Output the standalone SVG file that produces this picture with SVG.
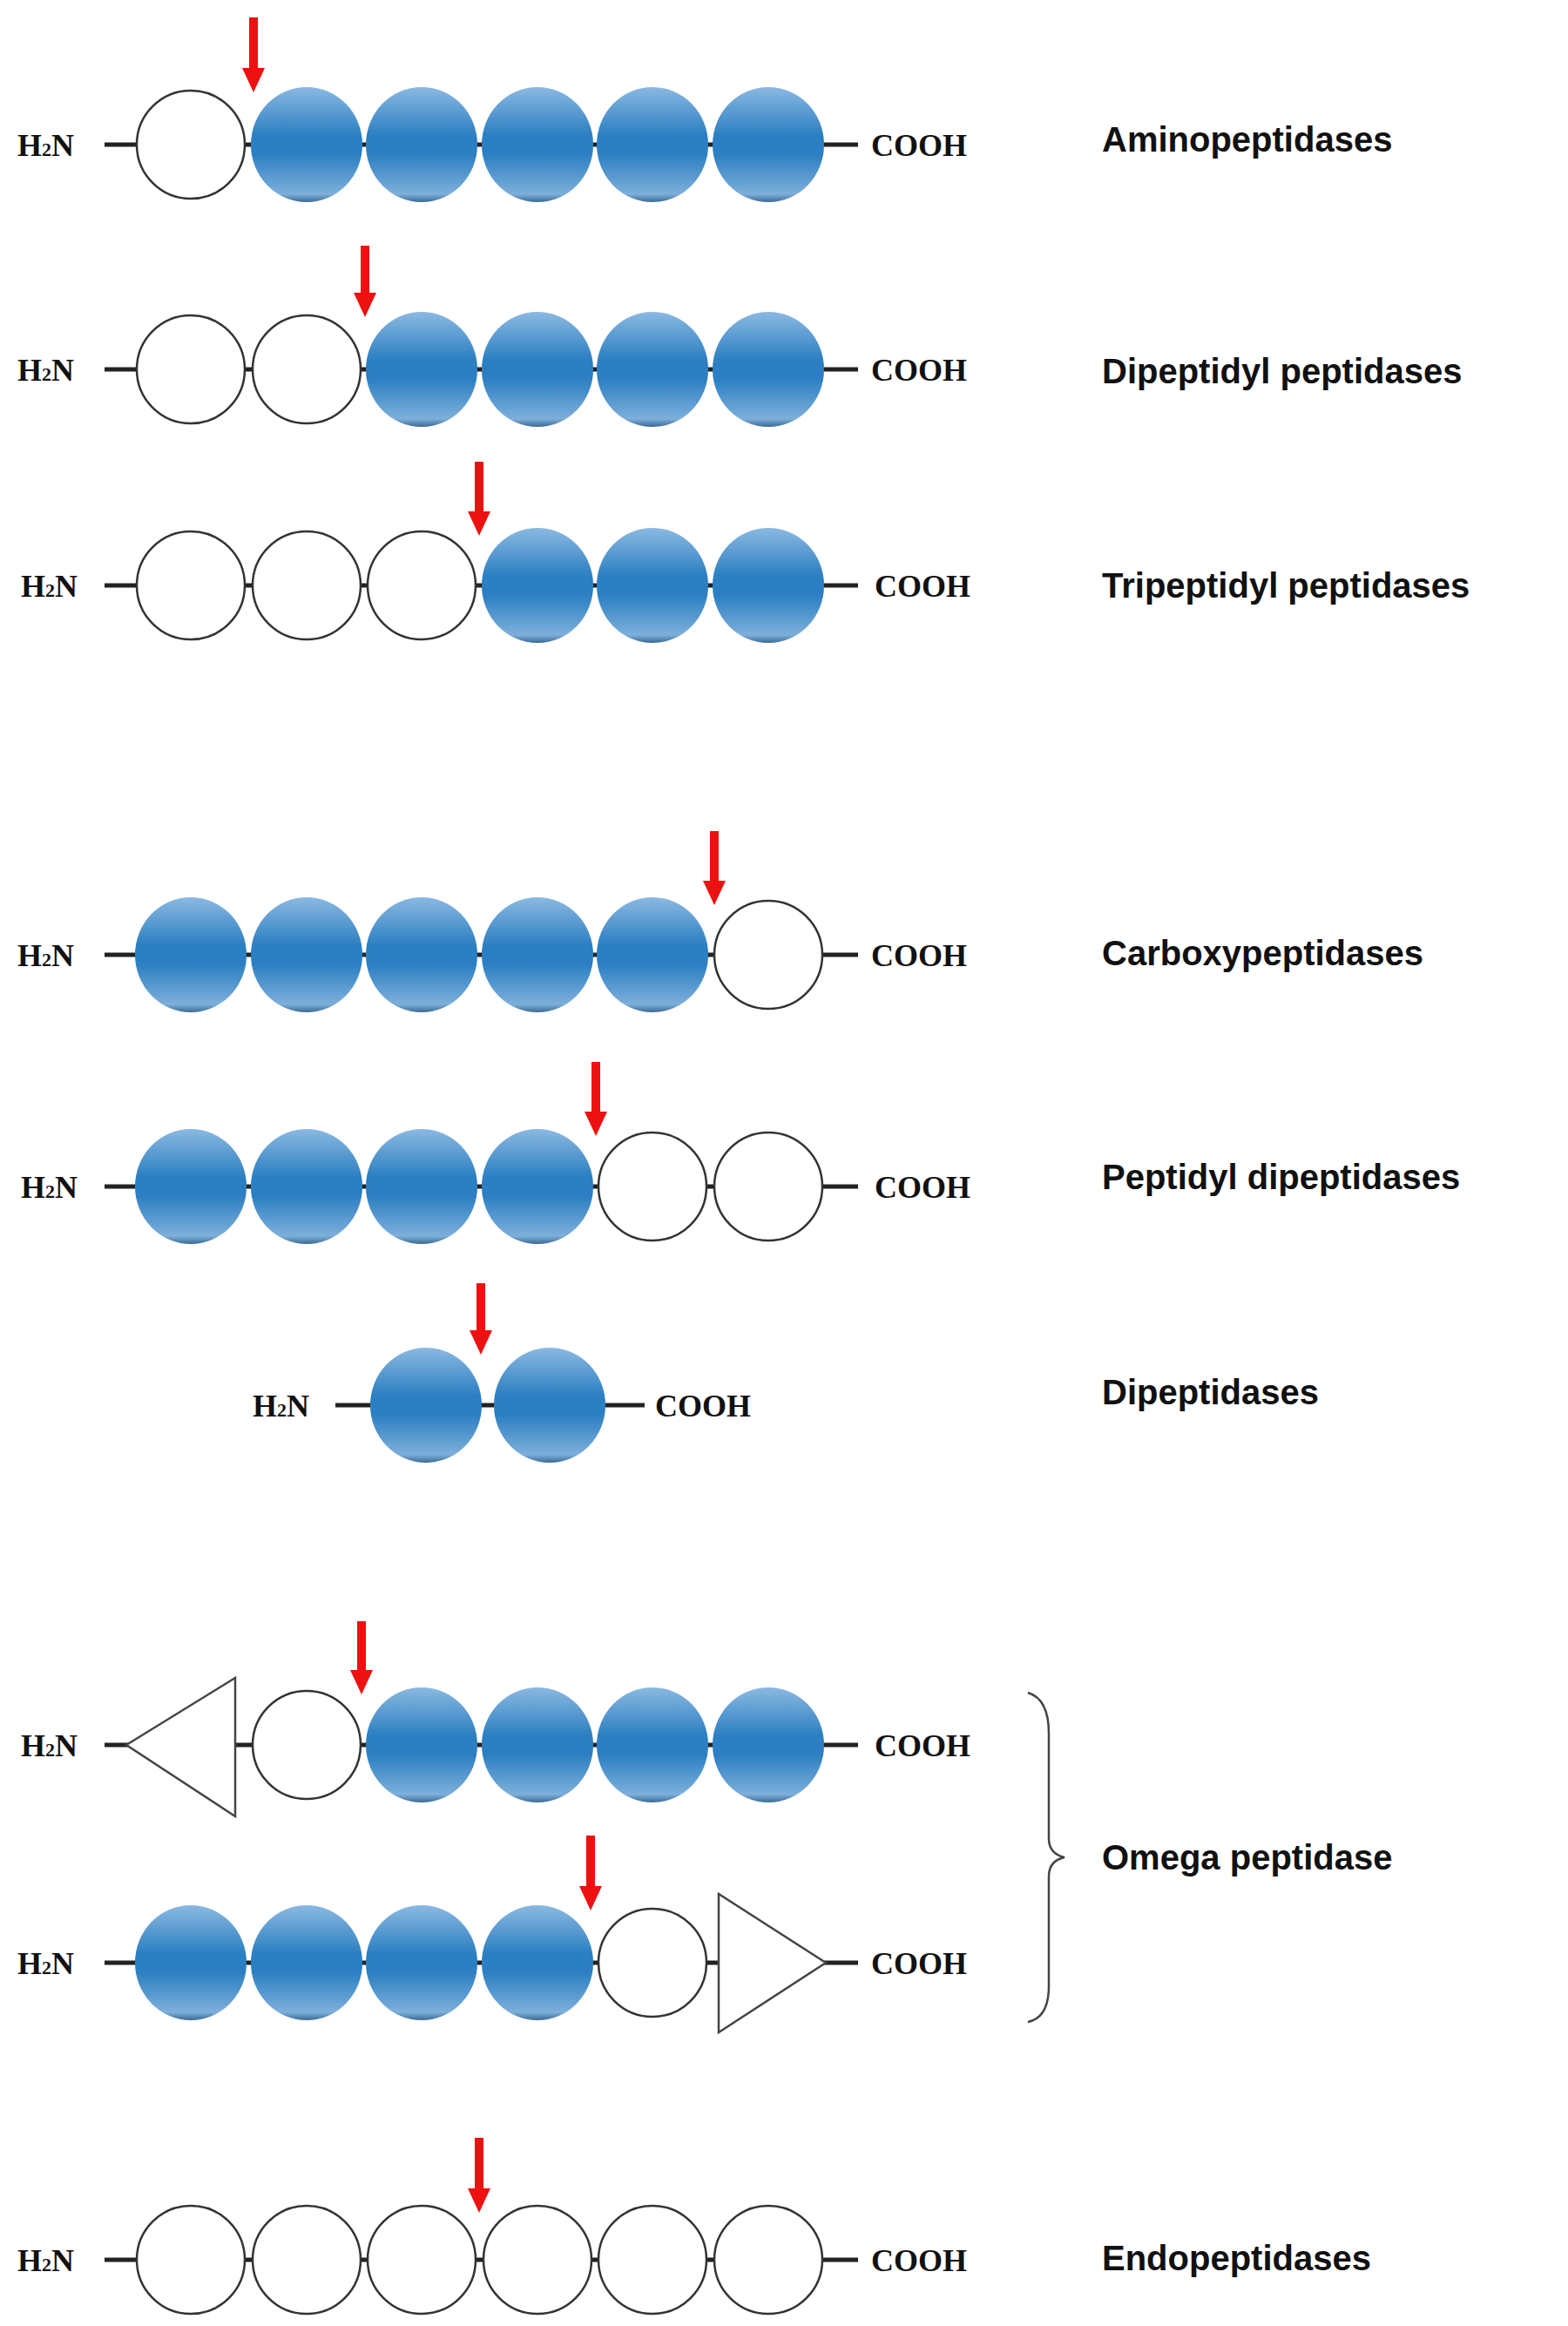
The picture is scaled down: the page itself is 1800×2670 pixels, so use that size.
<svg xmlns="http://www.w3.org/2000/svg" width="1800" height="2670" viewBox="0 0 1800 2670">
<defs>
<linearGradient id="bg" x1="0" y1="0" x2="0" y2="1">
<stop offset="0" stop-color="#8bb9e1"/><stop offset="0.42" stop-color="#2b7fc2"/><stop offset="0.58" stop-color="#2b7fc2"/><stop offset="0.93" stop-color="#7dafdb"/><stop offset="1" stop-color="#3a6b96"/>
</linearGradient>
<symbol id="arr" viewBox="-14 0 28 86" width="28" height="86" overflow="visible"><path d="M-5,0 H5 V58 H13 L0,86 L-13,58 H-5 Z" fill="#ee1111"/></symbol>
</defs>
<style>
.b{fill:url(#bg)}
.w{fill:#fff;stroke:#333;stroke-width:2.5}
.t{fill:#fff;stroke:#444;stroke-width:2.5}
.ln{stroke:#222;stroke-width:5}
.ch{font-family:"Liberation Serif",serif;font-weight:bold;font-size:36px;fill:#111}
.lb{font-family:"Liberation Sans",sans-serif;font-weight:bold;font-size:40px;fill:#111}
.ar{fill:#ee1111}
</style>
<g id="connectors">
<line class="ln" x1="120" y1="166" x2="985" y2="166"/>
<line class="ln" x1="120" y1="424" x2="985" y2="424"/>
<line class="ln" x1="120" y1="672" x2="985" y2="672"/>
<line class="ln" x1="120" y1="1096" x2="985" y2="1096"/>
<line class="ln" x1="120" y1="1362" x2="985" y2="1362"/>
<line class="ln" x1="385" y1="1613" x2="740" y2="1613"/>
<line class="ln" x1="120" y1="2003" x2="985" y2="2003"/>
<line class="ln" x1="120" y1="2253" x2="985" y2="2253"/>
<line class="ln" x1="120" y1="2594" x2="985" y2="2594"/>
</g>
<g id="row1">
<text class="ch" x="20" y="179">H<tspan font-size="22">2</tspan>N</text>
<circle class="w" cx="219" cy="166" r="62"/>
<ellipse class="b" cx="352" cy="166" rx="64" ry="66"/><ellipse class="b" cx="484" cy="166" rx="64" ry="66"/><ellipse class="b" cx="617" cy="166" rx="64" ry="66"/><ellipse class="b" cx="749" cy="166" rx="64" ry="66"/><ellipse class="b" cx="882" cy="166" rx="64" ry="66"/>
<text class="ch" x="1000" y="179">COOH</text>
<path class="ar" d="M286,20 H296 V78 H304 L291,106 L278,78 H286 Z"/>
<text class="lb" x="1265" y="174">Aminopeptidases</text>
</g>
<g id="row2">
<text class="ch" x="20" y="437">H<tspan font-size="22">2</tspan>N</text>
<circle class="w" cx="219" cy="424" r="62"/><circle class="w" cx="352" cy="424" r="62"/>
<ellipse class="b" cx="484" cy="424" rx="64" ry="66"/><ellipse class="b" cx="617" cy="424" rx="64" ry="66"/><ellipse class="b" cx="749" cy="424" rx="64" ry="66"/><ellipse class="b" cx="882" cy="424" rx="64" ry="66"/>
<text class="ch" x="1000" y="437">COOH</text>
<path class="ar" d="M414,282 H424 V336 H432 L419,364 L406,336 H414 Z"/>
<text class="lb" x="1265" y="440">Dipeptidyl peptidases</text>
</g>
<g id="row3">
<text class="ch" x="24" y="685">H<tspan font-size="22">2</tspan>N</text>
<circle class="w" cx="219" cy="672" r="62"/><circle class="w" cx="352" cy="672" r="62"/><circle class="w" cx="484" cy="672" r="62"/>
<ellipse class="b" cx="617" cy="672" rx="64" ry="66"/><ellipse class="b" cx="749" cy="672" rx="64" ry="66"/><ellipse class="b" cx="882" cy="672" rx="64" ry="66"/>
<text class="ch" x="1004" y="685">COOH</text>
<path class="ar" d="M545,530 H555 V587 H563 L550,615 L537,587 H545 Z"/>
<text class="lb" x="1265" y="686">Tripeptidyl peptidases</text>
</g>
<g id="row4">
<text class="ch" x="20" y="1109">H<tspan font-size="22">2</tspan>N</text>
<ellipse class="b" cx="219" cy="1096" rx="64" ry="66"/><ellipse class="b" cx="352" cy="1096" rx="64" ry="66"/><ellipse class="b" cx="484" cy="1096" rx="64" ry="66"/><ellipse class="b" cx="617" cy="1096" rx="64" ry="66"/><ellipse class="b" cx="749" cy="1096" rx="64" ry="66"/>
<circle class="w" cx="882" cy="1096" r="62"/>
<text class="ch" x="1000" y="1109">COOH</text>
<path class="ar" d="M815,954 H825 V1011 H833 L820,1039 L807,1011 H815 Z"/>
<text class="lb" x="1265" y="1108">Carboxypeptidases</text>
</g>
<g id="row5">
<text class="ch" x="24" y="1375">H<tspan font-size="22">2</tspan>N</text>
<ellipse class="b" cx="219" cy="1362" rx="64" ry="66"/><ellipse class="b" cx="352" cy="1362" rx="64" ry="66"/><ellipse class="b" cx="484" cy="1362" rx="64" ry="66"/><ellipse class="b" cx="617" cy="1362" rx="64" ry="66"/>
<circle class="w" cx="749" cy="1362" r="62"/><circle class="w" cx="882" cy="1362" r="62"/>
<text class="ch" x="1004" y="1375">COOH</text>
<path class="ar" d="M679,1219 H689 V1276 H697 L684,1304 L671,1276 H679 Z"/>
<text class="lb" x="1265" y="1365">Peptidyl dipeptidases</text>
</g>
<g id="row6">
<text class="ch" x="290" y="1626">H<tspan font-size="22">2</tspan>N</text>
<ellipse class="b" cx="489" cy="1613" rx="64" ry="66"/><ellipse class="b" cx="631" cy="1613" rx="64" ry="66"/>
<text class="ch" x="752" y="1626">COOH</text>
<path class="ar" d="M547,1473 H557 V1527 H565 L552,1555 L539,1527 H547 Z"/>
<text class="lb" x="1265" y="1612">Dipeptidases</text>
</g>
<g id="row7">
<text class="ch" x="24" y="2016">H<tspan font-size="22">2</tspan>N</text>
<polygon class="t" points="145,2003 270,1926 270,2085"/>
<circle class="w" cx="352" cy="2003" r="62"/>
<ellipse class="b" cx="484" cy="2003" rx="64" ry="66"/><ellipse class="b" cx="617" cy="2003" rx="64" ry="66"/><ellipse class="b" cx="749" cy="2003" rx="64" ry="66"/><ellipse class="b" cx="882" cy="2003" rx="64" ry="66"/>
<text class="ch" x="1004" y="2016">COOH</text>
<path class="ar" d="M410,1861 H420 V1917 H428 L415,1945 L402,1917 H410 Z"/>
</g>
<g id="row8">
<text class="ch" x="20" y="2266">H<tspan font-size="22">2</tspan>N</text>
<ellipse class="b" cx="219" cy="2253" rx="64" ry="66"/><ellipse class="b" cx="352" cy="2253" rx="64" ry="66"/><ellipse class="b" cx="484" cy="2253" rx="64" ry="66"/><ellipse class="b" cx="617" cy="2253" rx="64" ry="66"/>
<circle class="w" cx="749" cy="2253" r="62"/>
<polygon class="t" points="825,2174 825,2333 948,2253"/>
<text class="ch" x="1000" y="2266">COOH</text>
<path class="ar" d="M673,2107 H683 V2165 H691 L678,2193 L665,2165 H673 Z"/>
</g>
<g id="omega">
<path d="M1180,1943 Q1204,1950 1204,1990 V2110 Q1204,2128 1222,2132 Q1204,2136 1204,2154 V2280 Q1204,2316 1180,2321" fill="none" stroke="#444" stroke-width="2.5"/>
<text class="lb" x="1265" y="2146">Omega peptidase</text>
</g>
<g id="row9">
<text class="ch" x="20" y="2607">H<tspan font-size="22">2</tspan>N</text>
<circle class="w" cx="219" cy="2594" r="62"/><circle class="w" cx="352" cy="2594" r="62"/><circle class="w" cx="484" cy="2594" r="62"/><circle class="w" cx="617" cy="2594" r="62"/><circle class="w" cx="749" cy="2594" r="62"/><circle class="w" cx="882" cy="2594" r="62"/>
<text class="ch" x="1000" y="2607">COOH</text>
<path class="ar" d="M545,2454 H555 V2512 H563 L550,2540 L537,2512 H545 Z"/>
<text class="lb" x="1265" y="2606">Endopeptidases</text>
</g>
</svg>
